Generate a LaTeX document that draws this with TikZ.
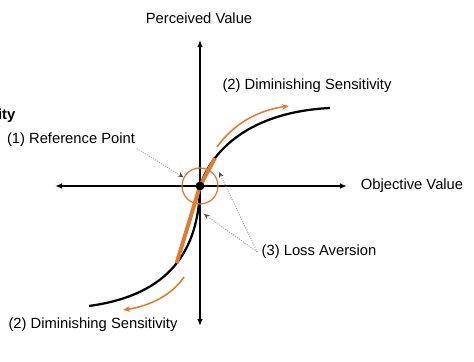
\documentclass[tikz,border=0pt]{standalone}
\usepackage{fontspec}
\setmainfont{Liberation Sans}
\usetikzlibrary{arrows.meta}
\definecolor{ptorange}{RGB}{226,122,48}

\begin{document}
\begin{tikzpicture}[every node/.style={font=\fontsize{10.5}{12.6}\selectfont, inner sep=1pt},
	axis/.style={black, line width=1.4pt, {Latex[length=5pt,width=4pt]}-{Latex[length=5pt,width=4pt]}},
	value/.style={black, line width=1.6pt},
	kink/.style={ptorange, line width=2.8pt},
	trend/.style={ptorange, line width=1.1pt, -{Stealth[length=5pt,width=4pt]}},
	hint/.style={gray!70, densely dotted, line width=0.7pt, -{Stealth[length=4pt,width=3.5pt,black!70]}}]
	\useasboundingbox (-5,-4.4) rectangle (6.85,4.65);
	\coordinate (O) at (0,0);
	\coordinate (west) at (-3.625,0); \coordinate (east) at (3.675,0);
	\coordinate (north) at (0,3.65); \coordinate (south) at (0,-3.5);
	\draw[axis] (west) -- (east);
	\draw[axis] (south) -- (north);
	\node[anchor=west] (xlab) at (3.98,0) {Objective Value};
	\node (ylab) at (-0.025,4.2) {Perceived Value};
	\draw[value] (O) .. controls (0.3,0.9) and (1.25,1.85) .. (3.25,1.95) coordinate[pos=0.26] (gaintop);
	\draw[value] (O) .. controls (-0.025,-1.6) and (-0.75,-2.725) .. (-2.775,-3.0) coordinate[pos=0.48] (lossbot);
	\draw[kink] (lossbot) -- (O) -- (gaintop);
	\node[draw=ptorange, line width=0.9pt, circle, minimum size=0.9cm, inner sep=0pt] (refpt) at (O) {};
	\fill[black] (O) circle (0.11);
	\coordinate (g0) at (0.425,0.975); \coordinate (g1) at (2.225,2.0);
	\coordinate (l0) at (-0.4,-2.275); \coordinate (l1) at (-1.925,-3.1);
	\draw[trend] (g0) .. controls (0.875,1.6) and (1.5,1.9) .. (g1);
	\draw[trend] (l0) .. controls (-0.7,-2.725) and (-1.25,-3.0) .. (l1);
	\node (dsup) at (2.675,2.5) {(2) Diminishing Sensitivity};
	\node (dslow) at (-2.675,-3.475) {(2) Diminishing Sensitivity};
	\node[anchor=base east, font=\fontsize{10.5}{12.6}\selectfont\bfseries] (title) at (-4.575,1.65) {ity};
	\node (ref) at (-3.225,1.15) {(1) Reference Point};
	\node (loss) at (2.975,-1.65) {(3) Loss Aversion};
	\coordinate (gainpt) at (0.475,0.35); \coordinate (losspt) at (0.1,-0.7);
	\draw[hint] (ref.south east) -- (refpt.152);
	\draw[hint] ([xshift=-2pt]loss.west) -- (gainpt);
	\draw[hint] ([xshift=-2pt]loss.west) -- (losspt);
\end{tikzpicture}
\end{document}
